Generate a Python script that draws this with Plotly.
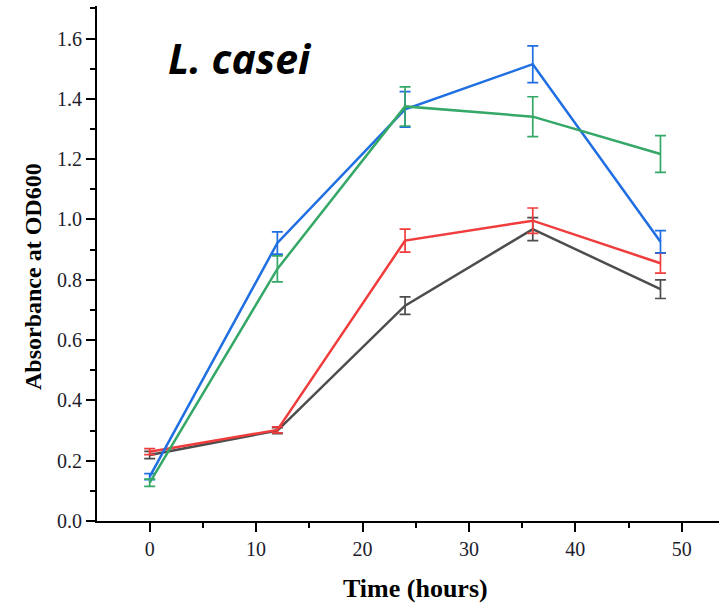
import plotly.graph_objects as go

time_h = [0, 12, 24, 36, 48]

black_vals = [0.219, 0.300, 0.714, 0.968, 0.769]
black_err = [0.012, 0.010, 0.029, 0.038, 0.031]
red_vals = [0.230, 0.302, 0.930, 0.996, 0.855]
red_err = [0.010, 0.010, 0.038, 0.042, 0.033]
blue_vals = [0.147, 0.922, 1.365, 1.515, 0.926]
blue_err = [0.010, 0.037, 0.059, 0.061, 0.037]
green_vals = [0.127, 0.836, 1.375, 1.341, 1.217]
green_err = [0.012, 0.043, 0.065, 0.066, 0.061]

series = [
    ("Control", black_vals, black_err, "#4D4D4D"),
    ("Sample 1", red_vals, red_err, "#F03C3C"),
    ("Sample 2", blue_vals, blue_err, "#1F6FE3"),
    ("Sample 3", green_vals, green_err, "#35A868"),
]

fig = go.Figure()
for name, vals, err, col in series:
    fig.add_trace(go.Scatter(
        x=time_h, y=vals, name=name, mode="lines",
        line=dict(color=col, width=2.5),
        error_y=dict(type="data", array=err, visible=True,
                     color=col, thickness=1.7, width=5.5),
        showlegend=False,
    ))

tickfont = dict(family="Liberation Serif", size=20, color="#1c1c2c")
fig.update_layout(
    width=719, height=604,
    margin=dict(l=97, r=0, t=6, b=83),
    paper_bgcolor="white", plot_bgcolor="white",
    xaxis=dict(range=[-4.95, 53.5], tickvals=[0, 10, 20, 30, 40, 50],
               ticks="outside", ticklen=9, tickwidth=2, tickcolor="black",
               showline=True, linecolor="black", linewidth=2,
               showgrid=False, zeroline=False, tickfont=tickfont,
               minor=dict(tickvals=[-5, 5, 15, 25, 35, 45], ticks="outside",
                          ticklen=5, tickwidth=2, tickcolor="black")),
    yaxis=dict(range=[0, 1.708], tickvals=[0, 0.2, 0.4, 0.6, 0.8, 1.0, 1.2, 1.4, 1.6],
               tickformat=".1f",
               ticks="outside", ticklen=9, tickwidth=2, tickcolor="black",
               showline=True, linecolor="black", linewidth=2,
               showgrid=False, zeroline=False, tickfont=tickfont,
               minor=dict(tickvals=[0.1, 0.3, 0.5, 0.7, 0.9, 1.1, 1.3, 1.5, 1.7], ticks="outside",
                          ticklen=5, tickwidth=2, tickcolor="black")),
    annotations=[
        dict(text="Time (hours)", x=415, y=588, xref="paper", yref="paper",
             showarrow=False, font=dict(family="Liberation Serif", size=26, color="black", weight="bold")),
        dict(text="Absorbance at OD600", x=33, y=277, textangle=-90,
             showarrow=False, font=dict(family="Liberation Serif", size=24, color="black", weight="bold")),
        dict(text="L. casei", x=240, y=58, showarrow=False,
             font=dict(family="Open Sans", size=41, color="black", weight="bold", style="italic")),
    ],
)

# convert pixel positions of annotations to paper coords
pw = 719 - 97 - 0
ph = 604 - 6 - 83
for a in fig.layout.annotations:
    px, py = a.x, a.y
    a.xref = "paper"; a.yref = "paper"
    a.x = (px - 97) / pw
    a.y = (604 - 83 - py) / ph
    a.xanchor = "center"; a.yanchor = "middle"

fig.write_html("out.html")
